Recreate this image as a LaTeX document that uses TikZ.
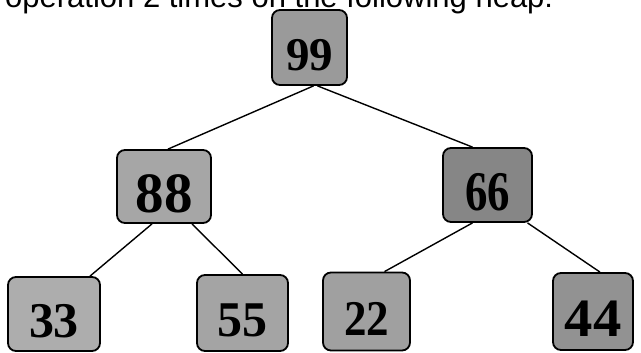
\documentclass[tikz,border=0pt]{standalone}
\usepackage{fontspec}
\usepackage{graphicx}
\setmainfont{Liberation Serif}
\newfontfamily\capfont{Liberation Sans}
\definecolor{box99}{HTML}{9A9A9A}
\definecolor{box88}{HTML}{A6A6A6}
\definecolor{box66}{HTML}{868686}
\definecolor{box33}{HTML}{ADADAD}
\definecolor{box55}{HTML}{A4A4A4}
\definecolor{box22}{HTML}{A0A0A0}
\definecolor{box44}{HTML}{929292}
% key value printed a little below the middle of its box;
% #1 font size, #2 horizontal squeeze, #3 the value
\newcommand\heapkey[3]{\fontsize{#1}{#1}\selectfont\bfseries
  \raisebox{0pt}[\dimexpr\height+14pt\relax][0pt]{\scalebox{#2}[1]{#3}}}
\tikzset{
  heapbox/.style={draw=black, line width=1.8pt, rounded corners=8pt,
    inner sep=0pt, text=black},
  heapedge/.style={draw=black, line width=1.4pt}
}
\begin{document}
\begin{tikzpicture}[x=1pt, y=-1pt]
\useasboundingbox (0,0) rectangle (641,353);
\clip (0,0) rectangle (641,353);

% caption line, only its lower part lies on the page
\node[anchor=base west, inner sep=0pt, font=\capfont\fontsize{31}{31}\selectfont]
  (caption) at (5,7.5) {operation 2 times on the following heap:};

% heap nodes
\node[heapbox, fill=box99, minimum width=75pt, minimum height=75pt] (n99) at (309.5,47.5) {\heapkey{47}{1}{99}};
\node[heapbox, fill=box88, minimum width=94pt, minimum height=73pt] (n88) at (164,186.5) {\heapkey{57}{1}{88}};
\node[heapbox, fill=box66, minimum width=89pt, minimum height=74pt] (n66) at (487.5,185) {\heapkey{56}{0.8}{66}};
\node[heapbox, fill=box33, minimum width=92pt, minimum height=74pt] (n33) at (54,314) {\heapkey{50}{1}{33}};
\node[heapbox, fill=box55, minimum width=91pt, minimum height=76pt] (n55) at (242.5,313) {\heapkey{50}{1}{55}};
\node[heapbox, fill=box22, minimum width=87pt, minimum height=78pt] (n22) at (366.5,311.5) {\heapkey{50}{0.9}{22}};
\node[heapbox, fill=box44, minimum width=80pt, minimum height=77pt] (n44) at (593,311.5) {\heapkey{54}{1.05}{44}};

% parent-child links
\draw[heapedge] ([xshift=4pt]n99.south) -- ([xshift=4pt]n88.north);
\draw[heapedge] ([xshift=8pt]n99.south) -- ([xshift=-15pt]n66.north);
\draw[heapedge] ([xshift=-12pt]n88.south) -- ([xshift=36pt]n33.north);
\draw[heapedge] ([xshift=28pt]n88.south) -- ([xshift=0pt]n55.north);
\draw[heapedge] ([xshift=-15pt]n66.south) -- ([xshift=18pt]n22.north);
\draw[heapedge] ([xshift=40pt]n66.south) -- ([xshift=7pt]n44.north);
\end{tikzpicture}
\end{document}
